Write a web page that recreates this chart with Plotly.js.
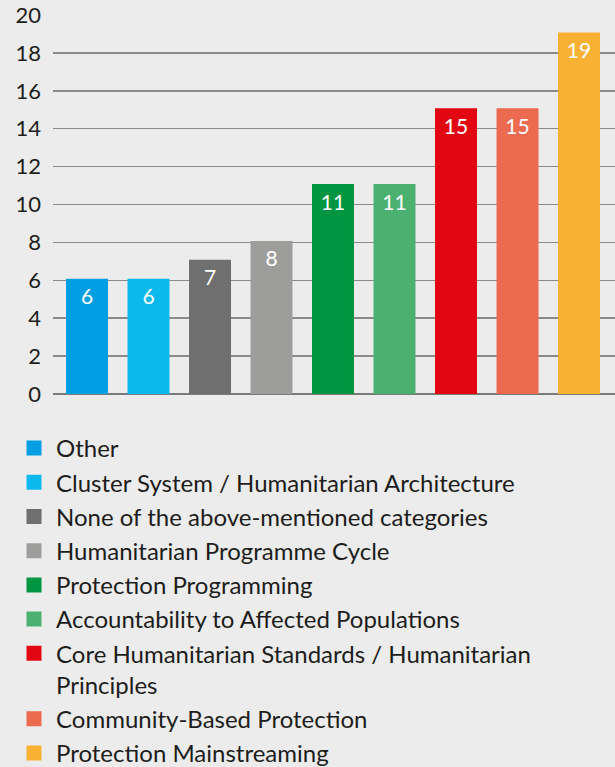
<!DOCTYPE html>
<html><head><meta charset="utf-8">
<script src="https://cdn.plot.ly/plotly-3.0.1.min.js"></script>
<style>html,body{margin:0;padding:0;background:#ececec;}</style>
</head><body>
<div id="chart" style="width:615px;height:767px;"></div>
<script>
const categories = ["Other","Cluster System / Humanitarian Architecture","None of the above-mentioned categories","Humanitarian Programme Cycle","Protection Programming","Accountability to Affected Populations","Core Humanitarian Standards / Humanitarian<br>Principles","Community-Based Protection","Protection Mainstreaming"];
const values = [6,6,7,8,11,11,15,15,19];
const colors = ["#009fe3","#0cb9ee","#706f6f","#9d9d9c","#009540","#4bb170","#e20613","#ec6a4f","#f8b133"];
const yTicks = [0,2,4,6,8,10,12,14,16,18,20];

const traces = categories.map((c,i)=>({
  type:'bar', x:[i], y:[values[i]], name:c,
  marker:{color:colors[i], line:{color:colors[i], width:3}}, width:0.634,
  text:[String(values[i])], textposition:'inside', insidetextanchor:'end', constraintext:'none',
  textfont:{family:'Lato', size:21, color:'#ffffff'}, hoverinfo:'none'
}));

const layout = {
  width:615, height:767,
  paper_bgcolor:'#ececec', plot_bgcolor:'#ececec',
  margin:{l:53,r:0,t:15,b:373, autoexpand:false},
  barmode:'overlay',
  font:{family:'Lato', color:'#1d1d1b'},
  xaxis:{range:[-0.553,8.585], showticklabels:false, showgrid:false, zeroline:false, fixedrange:true},
  yaxis:{range:[0,20], tickvals:yTicks, ticktext:yTicks.map(String), showgrid:true, gridcolor:'#8a8a8a', gridwidth:1.5,
         zeroline:true, zerolinecolor:'#7a7a7a', zerolinewidth:2.5, tickfont:{family:'Lato', size:22, color:'#1d1d1b'},
         ticklabelstandoff:11, automargin:false},
  showlegend:true,
  legend:{x:12/615, xref:'container', y:(767-426)/767, yref:'container', yanchor:'top', xanchor:'left',
          itemwidth:34, valign:'top',
          font:{family:'Lato', size:24, color:'#1d1d1b'}, bgcolor:'rgba(0,0,0,0)', traceorder:'normal', itemclick:false}
};
Plotly.newPlot('chart', traces, layout, {displayModeBar:false, staticPlot:true});
</script>
</body></html>
